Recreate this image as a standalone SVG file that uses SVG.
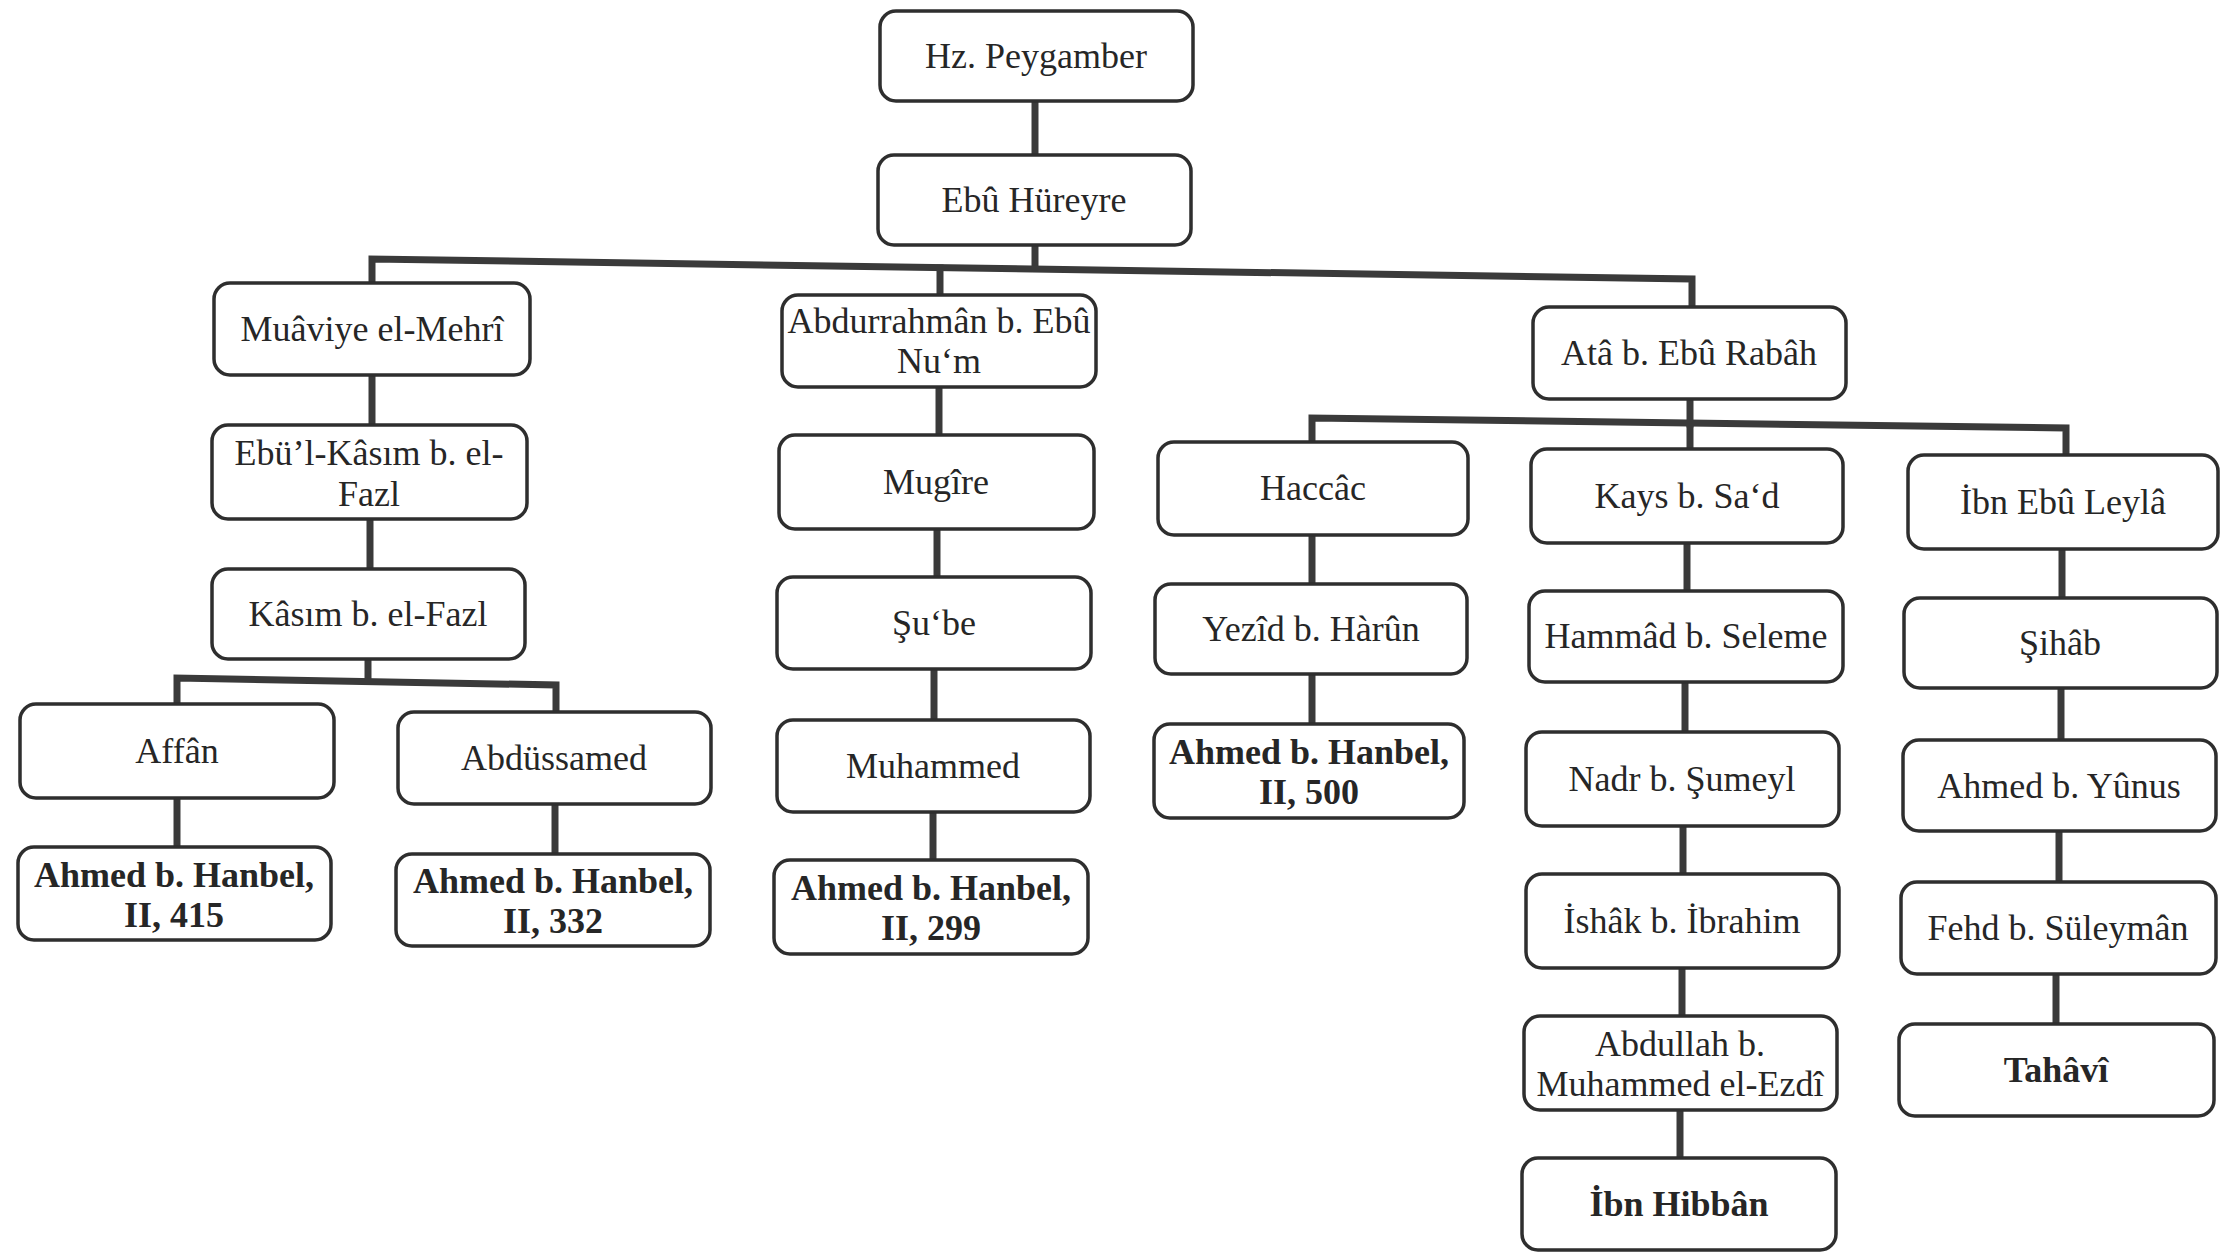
<svg xmlns="http://www.w3.org/2000/svg" width="2221" height="1253" viewBox="0 0 2221 1253">
<style>
.box{fill:#ffffff;stroke:#2e2e2e;stroke-width:3.5}
.t{font-family:"Liberation Serif","Times New Roman",serif;font-size:36px;fill:#262626;text-anchor:middle}
.b{font-weight:bold}
.c{fill:none;stroke:#3a3a3a;stroke-width:7;stroke-linecap:square;stroke-linejoin:miter}
</style>
<rect width="2221" height="1253" fill="#ffffff"/>
<g id="connectors">
<path class="c" d="M1035 101V155"/>
<path class="c" d="M1035 245V266"/>
<path class="c" d="M372 283V259L1692 279V307"/>
<path class="c" d="M940 268V295"/>
<path class="c" d="M372 375V425"/>
<path class="c" d="M370 519V569"/>
<path class="c" d="M368 659V681"/>
<path class="c" d="M177 704V678L556 685V712"/>
<path class="c" d="M177 798V847"/>
<path class="c" d="M555 804V854"/>
<path class="c" d="M939 387V435"/>
<path class="c" d="M937 529V577"/>
<path class="c" d="M934 669V720"/>
<path class="c" d="M933 812V860"/>
<path class="c" d="M1690 399V424"/>
<path class="c" d="M1312 442V418L2066 428V455"/>
<path class="c" d="M1690 424V449"/>
<path class="c" d="M1312 535V584"/>
<path class="c" d="M1312 674V724"/>
<path class="c" d="M1687 543V591"/>
<path class="c" d="M1685 682V732"/>
<path class="c" d="M1683 826V874"/>
<path class="c" d="M1682 968V1016"/>
<path class="c" d="M1680 1110V1158"/>
<path class="c" d="M2062 549V598"/>
<path class="c" d="M2061 688V740"/>
<path class="c" d="M2059 831V882"/>
<path class="c" d="M2056 974V1024"/>
</g>
<g id="n1"><rect class="box" x="880" y="11" width="313" height="90" rx="16"/><text class="t" x="1036" y="68">Hz. Peygamber</text></g>
<g id="n2"><rect class="box" x="878" y="155" width="313" height="90" rx="16"/><text class="t" x="1034" y="212">Ebû Hüreyre</text></g>
<g id="n3"><rect class="box" x="214" y="283" width="316" height="92" rx="16"/><text class="t" x="372" y="341">Muâviye el-Mehrî</text></g>
<g id="n4"><rect class="box" x="782" y="295" width="314" height="92" rx="16"/><text class="t" x="939" y="333">Abdurrahmân b. Ebû</text><text class="t" x="939" y="373">Nu‘m</text></g>
<g id="n5"><rect class="box" x="1533" y="307" width="313" height="92" rx="16"/><text class="t" x="1689" y="365">Atâ b. Ebû Rabâh</text></g>
<g id="n6"><rect class="box" x="212" y="425" width="315" height="94" rx="16"/><text class="t" x="369" y="465">Ebü’l-Kâsım b. el-</text><text class="t" x="369" y="506">Fazl</text></g>
<g id="n7"><rect class="box" x="212" y="569" width="313" height="90" rx="16"/><text class="t" x="368" y="626">Kâsım b. el-Fazl</text></g>
<g id="n8"><rect class="box" x="779" y="435" width="315" height="94" rx="16"/><text class="t" x="936" y="494">Mugîre</text></g>
<g id="n9"><rect class="box" x="777" y="577" width="314" height="92" rx="16"/><text class="t" x="934" y="635">Şu‘be</text></g>
<g id="n10"><rect class="box" x="777" y="720" width="313" height="92" rx="16"/><text class="t" x="933" y="778">Muhammed</text></g>
<g id="n11"><rect class="box" x="20" y="704" width="314" height="94" rx="16"/><text class="t" x="177" y="763">Affân</text></g>
<g id="n12"><rect class="box" x="398" y="712" width="313" height="92" rx="16"/><text class="t" x="554" y="770">Abdüssamed</text></g>
<g id="n13"><rect class="box" x="18" y="847" width="313" height="93" rx="16"/><text class="t b" x="174" y="887">Ahmed b. Hanbel,</text><text class="t b" x="174" y="927">II, 415</text></g>
<g id="n14"><rect class="box" x="396" y="854" width="314" height="92" rx="16"/><text class="t b" x="553" y="893">Ahmed b. Hanbel,</text><text class="t b" x="553" y="933">II, 332</text></g>
<g id="n15"><rect class="box" x="774" y="860" width="314" height="94" rx="16"/><text class="t b" x="931" y="900">Ahmed b. Hanbel,</text><text class="t b" x="931" y="940">II, 299</text></g>
<g id="n16"><rect class="box" x="1158" y="442" width="310" height="93" rx="16"/><text class="t" x="1313" y="500">Haccâc</text></g>
<g id="n17"><rect class="box" x="1531" y="449" width="312" height="94" rx="16"/><text class="t" x="1687" y="508">Kays b. Sa‘d</text></g>
<g id="n18"><rect class="box" x="1908" y="455" width="310" height="94" rx="16"/><text class="t" x="2063" y="514">İbn Ebû Leylâ</text></g>
<g id="n19"><rect class="box" x="1155" y="584" width="312" height="90" rx="16"/><text class="t" x="1311" y="641">Yezîd b. Hàrûn</text></g>
<g id="n20"><rect class="box" x="1154" y="724" width="310" height="94" rx="16"/><text class="t b" x="1309" y="764">Ahmed b. Hanbel,</text><text class="t b" x="1309" y="804">II, 500</text></g>
<g id="n21"><rect class="box" x="1529" y="591" width="314" height="91" rx="16"/><text class="t" x="1686" y="648">Hammâd b. Seleme</text></g>
<g id="n22"><rect class="box" x="1526" y="732" width="313" height="94" rx="16"/><text class="t" x="1682" y="791">Nadr b. Şumeyl</text></g>
<g id="n23"><rect class="box" x="1526" y="874" width="313" height="94" rx="16"/><text class="t" x="1682" y="933">İshâk b. İbrahim</text></g>
<g id="n24"><rect class="box" x="1524" y="1016" width="313" height="94" rx="16"/><text class="t" x="1680" y="1056">Abdullah b.</text><text class="t" x="1680" y="1096">Muhammed el-Ezdî</text></g>
<g id="n25"><rect class="box" x="1522" y="1158" width="314" height="92" rx="16"/><text class="t b" x="1679" y="1216">İbn Hibbân</text></g>
<g id="n26"><rect class="box" x="1904" y="598" width="313" height="90" rx="16"/><text class="t" x="2060" y="655">Şihâb</text></g>
<g id="n27"><rect class="box" x="1903" y="740" width="313" height="91" rx="16"/><text class="t" x="2059" y="798">Ahmed b. Yûnus</text></g>
<g id="n28"><rect class="box" x="1901" y="882" width="315" height="92" rx="16"/><text class="t" x="2058" y="940">Fehd b. Süleymân</text></g>
<g id="n29"><rect class="box" x="1899" y="1024" width="315" height="92" rx="16"/><text class="t b" x="2056" y="1082">Tahâvî</text></g>
</svg>
